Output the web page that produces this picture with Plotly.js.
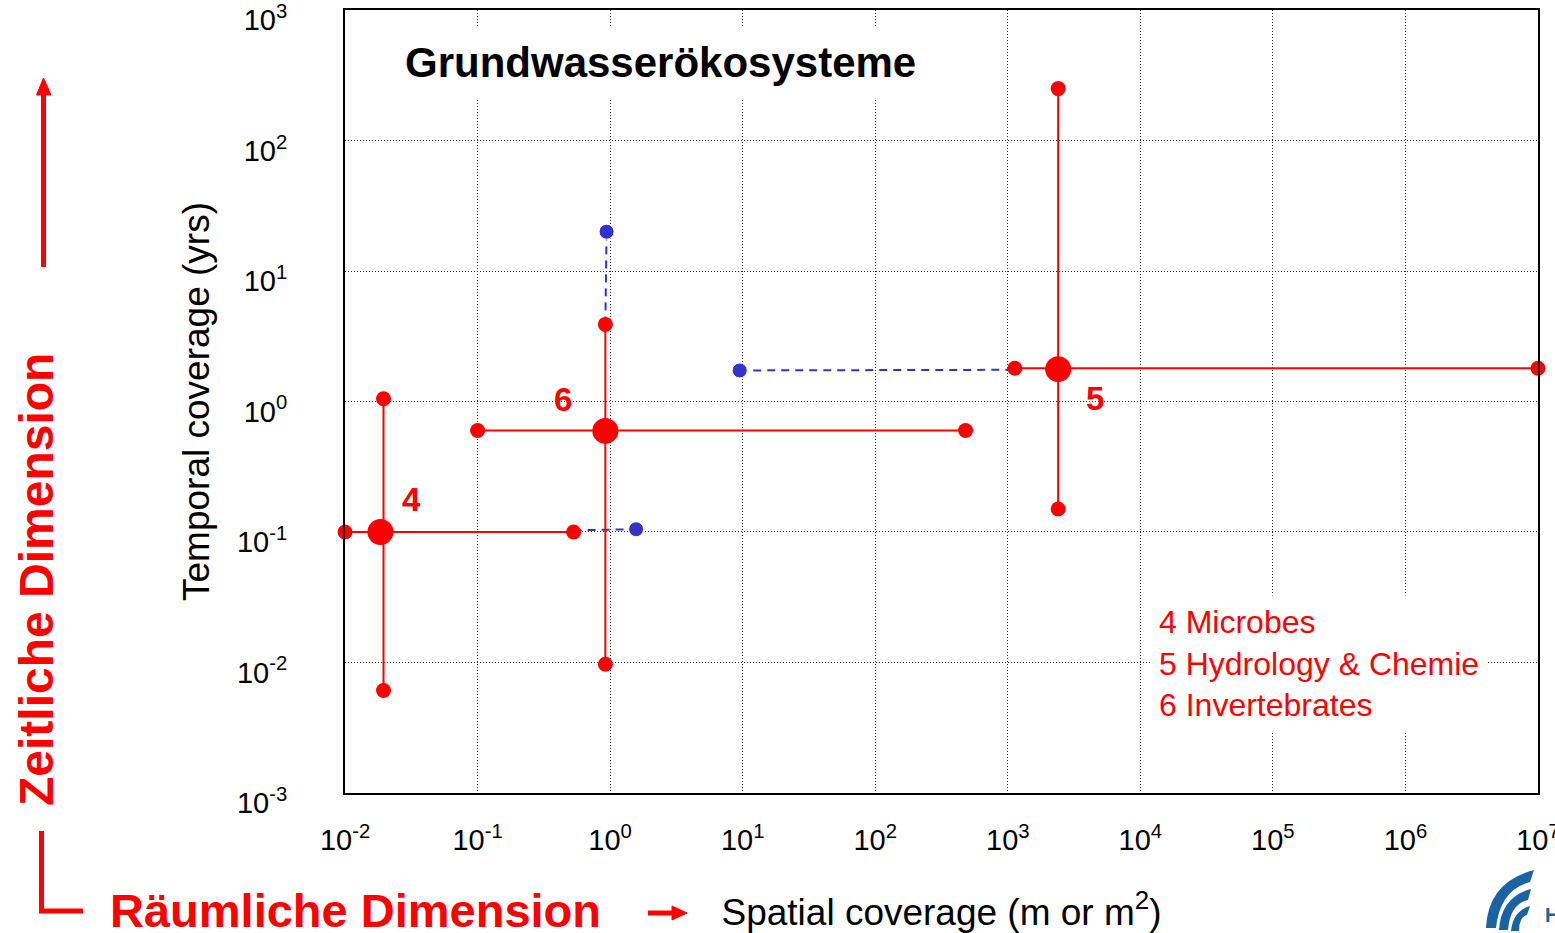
<!DOCTYPE html>
<html>
<head>
<meta charset="utf-8">
<script src="https://cdn.plot.ly/plotly-3.0.1.min.js"></script>
<style>html,body{margin:0;padding:0;background:#fff;}#chart{width:1555px;height:933px;}</style>
</head>
<body>
<div id="chart"></div>
<script>
// ---------- data ----------
const groupIds = ['4', '5', '6'];
const groupNames = ['Microbes', 'Hydrology & Chemie', 'Invertebrates'];

// centre points (spatial m or m2, temporal yrs)
const centerX = [0.0185, 2400, 0.92];
const centerY = [0.1, 1.77, 0.595];

// horizontal (spatial) ranges
const spanXmin = [0.01, 1130, 0.1];
const spanXmax = [0.53, 1e7, 480];
const spanXatY = [0.1, 1.8, 0.6];

// vertical (temporal) ranges
const spanYmin = [0.0061, 0.15, 0.0097];
const spanYmax = [1.05, 250, 3.9];
const spanYatX = [0.0195, 2400, 0.92];

// blue dashed extensions (from -> to)
const extFromX = [0.53, 1100, 0.92];
const extFromY = [0.103, 1.75, 3.9];
const extToX = [1.57, 9.5, 0.94];
const extToY = [0.105, 1.73, 20];

// tick labels
const xTickVals = [0.01, 0.1, 1, 10, 100, 1000, 1e4, 1e5, 1e6, 1e7];
const xTickText = ['10<sup>-2</sup>', '10<sup>-1</sup>', '10<sup>0</sup>', '10<sup>1</sup>', '10<sup>2</sup>', '10<sup>3</sup>', '10<sup>4</sup>', '10<sup>5</sup>', '10<sup>6</sup>', '10<sup>7</sup>'];
const yTickVals = [0.001, 0.01, 0.1, 1, 10, 100, 1000];
const yTickText = ['10<sup>-3</sup>', '10<sup>-2</sup>', '10<sup>-1</sup>', '10<sup>0</sup>', '10<sup>1</sup>', '10<sup>2</sup>', '10<sup>3</sup>'];

// ---------- style ----------
const RED = '#ff0000';
const BLUE = '#3333cc';
const LOGO = '#1b62a3';
const FONT = 'Liberation Sans, Arial, Helvetica, sans-serif';
const L = 345, R = 1538, T = 10, B = 793;
const W = 1555, H = 933;
const px = x => (x - L) / (R - L);
const py = y => (B - y) / (B - T);
function path(pts) {
  return pts.map(p => p[0] + ' ' + px(p[1]).toFixed(5) + ',' + py(p[2]).toFixed(5)).join(' ') + (pts.close ? ' Z' : '');
}
function closed(pts) { pts.close = true; return pts; }

const traces = [];
// blue dashed extensions
for (let i = 0; i < groupIds.length; i++) {
  traces.push({
    x: [extFromX[i], extToX[i]], y: [extFromY[i], extToY[i]],
    mode: 'lines+markers', type: 'scatter', cliponaxis: false, showlegend: false, hoverinfo: 'skip',
    line: {color: BLUE, width: 2, dash: '8px,6px'},
    marker: {color: BLUE, size: [0, 15], opacity: 1}
  });
}
// red spans
for (let i = 0; i < groupIds.length; i++) {
  traces.push({
    x: [spanXmin[i], spanXmax[i]], y: [spanXatY[i], spanXatY[i]],
    mode: 'lines+markers', type: 'scatter', cliponaxis: false, showlegend: false,
    name: groupNames[i],
    line: {color: RED, width: 2}, marker: {color: RED, size: 15, opacity: 1}
  });
  traces.push({
    x: [spanYatX[i], spanYatX[i]], y: [spanYmin[i], spanYmax[i]],
    mode: 'lines+markers', type: 'scatter', cliponaxis: false, showlegend: false,
    name: groupNames[i],
    line: {color: RED, width: 2}, marker: {color: RED, size: 15, opacity: 1}
  });
}
// centre markers
traces.push({
  x: centerX, y: centerY, mode: 'markers', type: 'scatter', cliponaxis: false, showlegend: false,
  text: groupNames, marker: {color: RED, size: 26, opacity: 1}
});

const shapes = [
  // vertical "Zeitliche" arrow
  {type: 'path', xref: 'paper', yref: 'paper', path: path([['M', 43.5, 267], ['L', 43.5, 92]]), line: {color: RED, width: 5}},
  {type: 'path', xref: 'paper', yref: 'paper', path: path(closed([['M', 36.5, 95], ['L', 51, 95], ['L', 43.5, 78]])), fillcolor: RED, line: {color: RED, width: 1}},
  // L shape
  {type: 'path', xref: 'paper', yref: 'paper', path: path([['M', 41.5, 831], ['L', 41.5, 911], ['L', 83, 911]]), line: {color: RED, width: 5}},
  // horizontal small arrow
  {type: 'path', xref: 'paper', yref: 'paper', path: path([['M', 648, 913], ['L', 675, 913]]), line: {color: RED, width: 5}},
  {type: 'path', xref: 'paper', yref: 'paper', path: path(closed([['M', 672, 906], ['L', 672, 920], ['L', 687, 913]])), fillcolor: RED, line: {color: RED, width: 1}},
  // logo (partial, bottom right)
  {type: 'path', xref: 'paper', yref: 'paper', path: path(closed([['M', 1486, 928], ['Q', 1488, 882], ['', 1534, 870], ['L', 1530, 882], ['Q', 1500, 890], ['', 1496, 928]])), fillcolor: LOGO, line: {width: 0}},
  {type: 'path', xref: 'paper', yref: 'paper', path: path(closed([['M', 1499, 930], ['Q', 1501, 897], ['', 1531, 889], ['L', 1528, 900], ['Q', 1510, 904], ['', 1508, 930]])), fillcolor: LOGO, line: {width: 0}},
  {type: 'path', xref: 'paper', yref: 'paper', path: path(closed([['M', 1511, 931], ['Q', 1513, 911], ['', 1530, 906], ['L', 1527, 915], ['Q', 1519, 917], ['', 1519, 931]])), fillcolor: LOGO, line: {width: 0}}
];

const legendText = groupIds.map((g, i) => g + ' ' + groupNames[i]).join('<br>');

const annotations = [
  {xref: 'paper', yref: 'paper', x: px(660), y: py(62), xanchor: 'center', yanchor: 'middle', showarrow: false,
   bgcolor: '#ffffff', borderpad: 12,
   text: '<b>Grundwasserökosysteme</b>', font: {family: FONT, size: 42, color: '#000'}},
  {xref: 'paper', yref: 'paper', x: px(1150), y: py(663), xanchor: 'left', yanchor: 'middle', align: 'left', showarrow: false,
   bgcolor: '#ffffff', borderpad: 8,
   text: legendText, font: {family: FONT, size: 32, color: RED}},
  // group labels (log10 positions)
  {xref: 'x', yref: 'y', x: -1.495, y: -0.752, showarrow: false, text: '<b>' + groupIds[0] + '</b>', font: {family: FONT, size: 33, color: RED}},
  {xref: 'x', yref: 'y', x: 3.659, y: 0.02, showarrow: false, text: '<b>' + groupIds[1] + '</b>', font: {family: FONT, size: 33, color: RED}},
  {xref: 'x', yref: 'y', x: -0.352, y: 0.015, showarrow: false, text: '<b>' + groupIds[2] + '</b>', font: {family: FONT, size: 33, color: RED}},
  // side labels
  {xref: 'paper', yref: 'paper', x: px(108), y: py(910), xanchor: 'left', yanchor: 'middle', showarrow: false,
   text: '<b>Räumliche Dimension</b>', font: {family: FONT, size: 47, color: RED}},
  {xref: 'paper', yref: 'paper', x: px(37), y: py(580), xanchor: 'center', yanchor: 'middle', textangle: -90, showarrow: false,
   text: '<b>Zeitliche Dimension</b>', font: {family: FONT, size: 48, color: RED}},
  {xref: 'paper', yref: 'paper', x: px(1543), y: py(915), xanchor: 'left', yanchor: 'middle', showarrow: false,
   text: '<b>H</b>', font: {family: FONT, size: 20, color: LOGO}}
];

const axisCommon = {
  type: 'log', showgrid: true, gridcolor: '#333', griddash: '1px,2px', gridwidth: 1,
  showline: true, linecolor: '#000', linewidth: 2, mirror: true, zeroline: false,
  ticks: '', tickmode: 'array', ticklabeloverflow: 'allow',
  tickfont: {family: FONT, size: 29, color: '#000'}
};

const layout = {
  width: W, height: H,
  margin: {l: L, r: W - R, t: T, b: H - B, pad: 0},
  paper_bgcolor: '#fff', plot_bgcolor: '#fff',
  showlegend: false,
  font: {family: FONT, color: '#000'},
  xaxis: Object.assign({}, axisCommon, {
    range: [-2.0004, 7.0004], tickvals: xTickVals, ticktext: xTickText, ticklabelstandoff: 20,
    title: {text: 'Spatial coverage (m or m<sup>2</sup>)', font: {family: FONT, size: 37, color: '#000'}, standoff: 45}
  }),
  yaxis: Object.assign({}, axisCommon, {
    range: [-3.0004, 3.0004], tickvals: yTickVals, ticktext: yTickText, ticklabelstandoff: 50, ticklabelshift: 10,
    title: {text: 'Temporal coverage (yrs)', font: {family: FONT, size: 37, color: '#000'}, standoff: 16}
  }),
  shapes: shapes,
  annotations: annotations
};

Plotly.newPlot('chart', traces, layout, {staticPlot: true, displayModeBar: false});
</script>
</body>
</html>
